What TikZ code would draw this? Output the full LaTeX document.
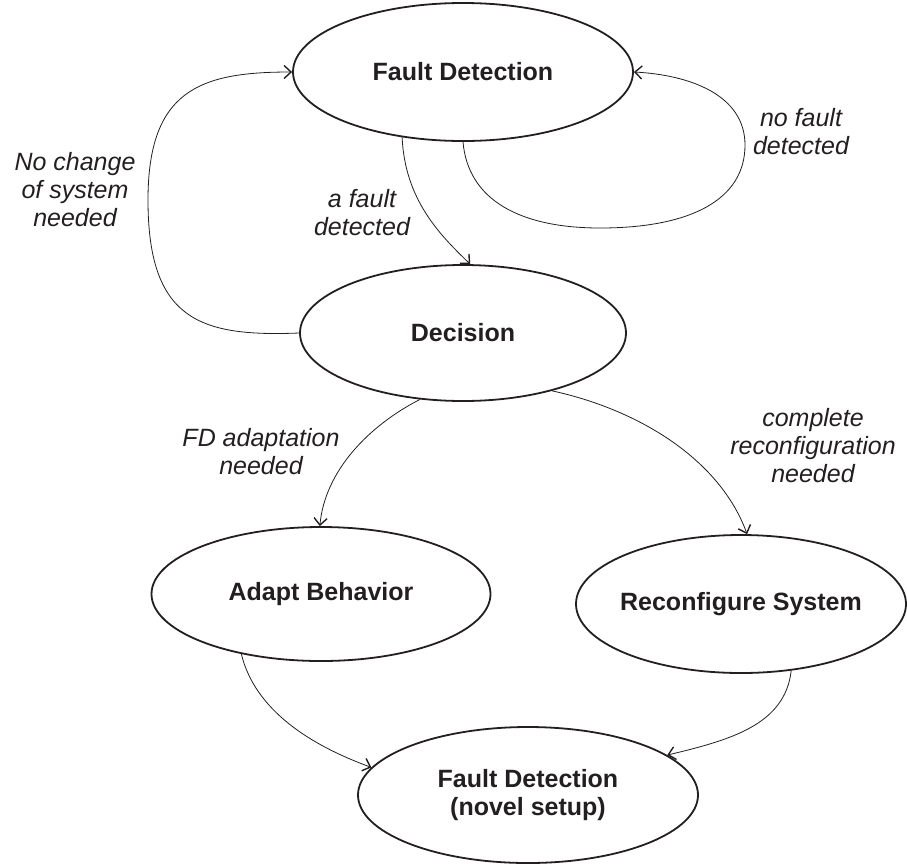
\documentclass[tikz,border=0pt]{standalone}
\usepackage{fontspec}
\setmainfont{Liberation Sans}
\usetikzlibrary{shapes.geometric,arrows.meta}
\definecolor{ink}{HTML}{231F20}
\tikzset{
  statebox/.style={ellipse, draw=ink, line width=1.8pt, inner sep=0pt},
  statetext/.style={text=ink, font=\fontsize{25}{28}\selectfont\bfseries, align=center, inner sep=0pt},
  edgelabel/.style={text=ink, font=\fontsize{25}{28}\selectfont\itshape, align=center, inner sep=0pt},
  flow/.style={draw=ink, line width=0.8pt,
    -{Straight Barb[length=7pt,width=13pt,line width=1.4pt]}},
}
\begin{document}
\begin{tikzpicture}[x=1pt,y=-1pt]
\useasboundingbox (0,0) rectangle (907,863);

% states
\node[statebox, minimum width=340pt, minimum height=138pt,
      label={[statetext]center:Fault Detection}] (fd) at (463,72) {};
\node[statebox, minimum width=326pt, minimum height=136pt,
      label={[statetext]center:Decision}] (dec) at (463,333) {};
\node[statebox, minimum width=339pt, minimum height=134pt,
      label={[statetext]center:Adapt Behavior}] (ab) at (321,594) {};
\node[statebox, minimum width=330pt, minimum height=138pt,
      label={[statetext]center:Reconfigure System}] (rs) at (741,604) {};
\node[statebox, minimum width=340pt, minimum height=136pt,
      label={[statetext]center:Fault Detection\\(novel setup)}] (fdn) at (528,795) {};

% transition labels
\node[edgelabel] (lnochange) at (75,190) {No change\\of system\\needed};
\node[edgelabel] (lfault) at (362,213) {a fault\\detected};
\node[edgelabel] (lnofault) at (801,132) {no fault\\detected};
\node[edgelabel] (ladapt) at (261,452) {FD adaptation\\needed};
\node[edgelabel] (lreconf) at (813,446) {complete\\reconfiguration\\needed};

% transitions
\draw[flow] (fd.-133) .. controls (405,200) and (440,235) .. (dec.84);
\draw[flow] (fd.-90) .. controls (468,200) and (520,228) .. (600,228)
  .. controls (690,228) and (745,200) .. (745,145)
  .. controls (745,95) and (690,75) .. (fd.0);
\draw[flow] (dec.180) .. controls (200,337) and (148,320) .. (148,200)
  .. controls (148,90) and (200,72) .. (fd.180);
\draw[flow] (dec.-123) .. controls (370,425) and (325,470) .. (ab.91);
\draw[flow] (dec.-33) .. controls (640,410) and (720,460) .. (rs.85);
\draw[flow] (ab.-143) .. controls (255,710) and (310,745) .. (fdn.170);
\draw[flow] (rs.-53) .. controls (785,725) and (730,740) .. (fdn.16);
\end{tikzpicture}
\end{document}
